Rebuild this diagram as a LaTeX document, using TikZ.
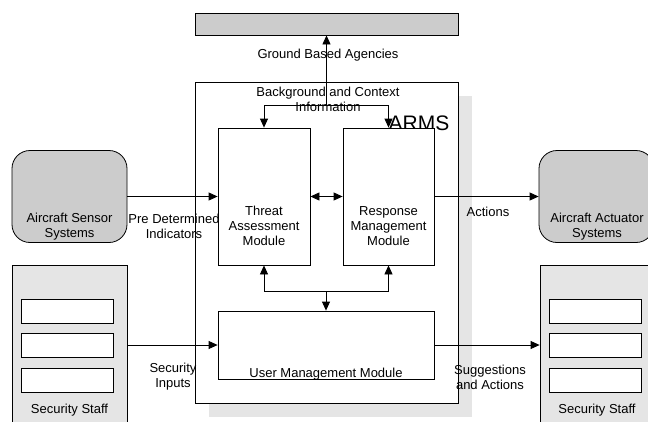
\documentclass[tikz,border=0pt]{standalone}
\usepackage{fontspec}
\setmainfont{Liberation Sans}
\usetikzlibrary{arrows.meta, positioning, shadows}

\definecolor{boxgray}{gray}{0.8}
\definecolor{staffgray}{gray}{0.9}
\definecolor{shadowgray}{gray}{0.9}

\begin{document}
\begin{tikzpicture}[x=1pt, y=-1pt, line width=0.8pt,
    every node/.style={font=\fontsize{13}{15}\selectfont, align=center},
    >={Triangle[length=9pt, width=8pt]},
    module/.style={draw, fill=white, inner sep=0pt},
    outerbox/.style={draw, fill=boxgray, inner sep=0pt, minimum width=115pt, minimum height=92pt, rounded corners=18pt},
    staffbox/.style={draw, fill=staffgray, inner sep=0pt, minimum width=115pt, minimum height=160pt},
    slot/.style={draw, fill=white, inner sep=0pt, minimum width=92pt, minimum height=24pt}]
    % Fix the page to the reference size
    \useasboundingbox (0,0) rectangle (648,421);
    \clip (0,0) rectangle (648,421);

    % Ground based agencies bar
    \node[draw, fill=boxgray, inner sep=0pt, minimum width=263pt, minimum height=22pt] (ground) at (326.5,24) {};

    % ARMS system box with its shadow
    \node[module, minimum width=263pt, minimum height=321pt,
        drop shadow={shadow xshift=14pt, shadow yshift=-14pt, fill=shadowgray, opacity=1}] (arms) at (326.5,242.5) {};
    \node[font=\fontsize{21}{24}\selectfont] (armsLbl) at (419,123) {ARMS};

    % Modules inside ARMS
    \node[module, minimum width=92pt, minimum height=137pt] (threat) at (264,196.5) {};
    \node[module, minimum width=91pt, minimum height=137pt] (response) at (388.5,196.5) {};
    \node[module, minimum width=216pt, minimum height=68pt] (user) at (326,345) {};
    \node (threatLbl) at (264,226) {Threat\\Assessment\\Module};
    \node (responseLbl) at (388.5,226) {Response\\Management\\Module};
    \node (userLbl) at (326,374) {User Management Module};

    % Aircraft systems
    \node[outerbox] (sensor) at (69.5,196.5) {};
    \node (sensorLbl) at (69.5,227) {Aircraft Sensor\\Systems};
    \node[outerbox] (actuator) at (596.5,196.5) {};
    \node (actuatorLbl) at (597,227) {Aircraft Actuator\\Systems};

    % Security staff on both sides
    \node[staffbox] (staffL) at (69.5,345) {};
    \node[staffbox] (staffR) at (597.5,345) {};
    \foreach \y [count=\i] in {311,345.5,380} {
        \node[slot] (slotL\i) at (67.5,\y) {};
        \node[slot] (slotR\i) at (595,\y) {};
    }
    \node (staffLLbl) at (69.5,410) {Security Staff};
    \node (staffRLbl) at (597,410) {Security Staff};

    % Background information to ground agencies and modules
    \coordinate (bc) at (326.5,105);
    \node (bcLbl) at (328,99) {Background and Context\\Information};
    \node (groundLbl) at (328,55) {Ground Based Agencies};
    \draw[->] (bc) -- (ground);
    \draw[->] (bc) -| (threat);
    \draw[->] (bc) -| (response);

    % Links between the modules
    \coordinate (um) at (326,291);
    \draw[<->] (threat) -- (response);
    \draw[->] (um) -| (threat);
    \draw[->] (um) -| (response);
    \draw[->] (um) -- (user);

    % Inputs and outputs
    \draw[->] (sensor) -- (threat);
    \draw[->] (response) -- (actuator);
    \draw[->] (staffL) -- (user);
    \draw[->] (user) -- (staffR);
    \node (indLbl) at (174,226) {Pre Determined\\Indicators};
    \node (actLbl) at (488,212) {Actions};
    \node (secLbl) at (173,377) {Security\\Inputs};
    \node (sugLbl) at (490,377) {Suggestions\\and Actions};
\end{tikzpicture}
\end{document}
